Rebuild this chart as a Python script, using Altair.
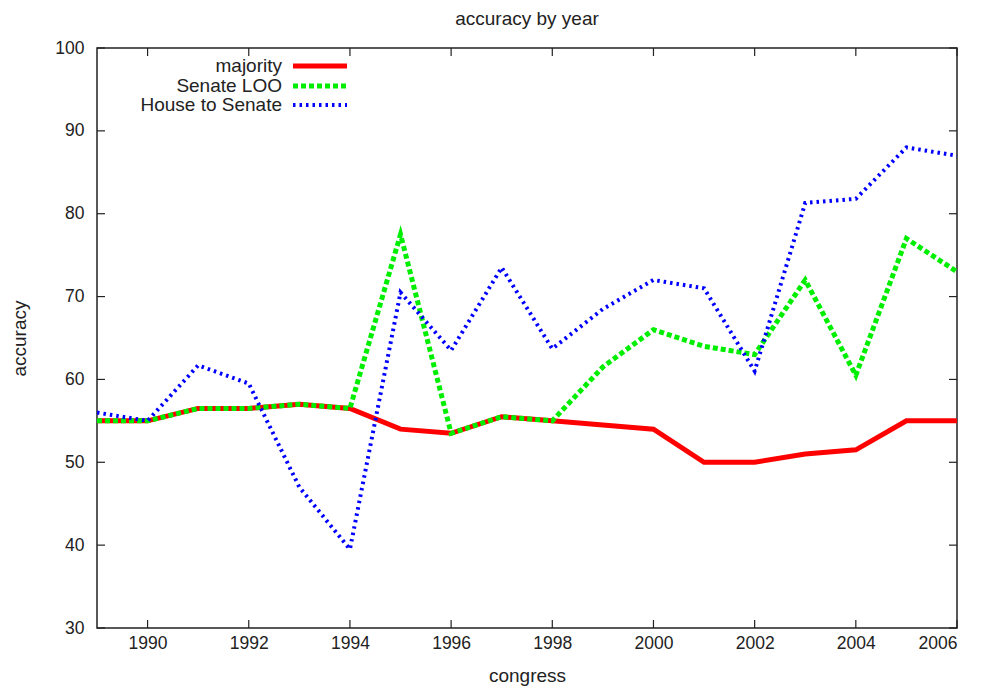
import altair as alt
import pandas as pd

years = list(range(1989, 2007))
majority = [55, 55, 56.5, 56.5, 57, 56.5, 54, 53.5, 55.5, 55, 54.5, 54, 50, 50, 51, 51.5, 55, 55]
senate_loo = [55, 55, 56.5, 56.5, 57, 56.5, 77.5, 53.5, 55.5, 55, 61.5, 66, 64, 63, 72, 60.5, 77, 73]
house_to_senate = [56, 55, 61.7, 59.5, 47, 39.5, 70.5, 63.5, 73.5, 63.7, 68.5, 72, 71, 61, 81.3, 81.8, 88, 87]
series_names = ["majority", "Senate LOO", "House to Senate"]
x_ticks = list(range(1990, 2007, 2))
y_ticks = list(range(30, 101, 10))

rows = []
for name, vals in zip(series_names, [majority, senate_loo, house_to_senate]):
    for yr, v in zip(years, vals):
        rows.append({"year": yr, "accuracy": v, "series": name})
df = pd.DataFrame(rows)
xt = pd.DataFrame({"year": x_ticks})
yt = pd.DataFrame({"accuracy": y_ticks})

W, H = 860, 580
FONT = "Liberation Sans"
TXT = "#222222"

xscale = alt.Scale(domain=[1989, 2006], nice=False, zero=False)
yscale = alt.Scale(domain=[30, 100], nice=False, zero=False)

xaxis = alt.Axis(values=x_ticks, format="d", ticks=False, domain=False, grid=False,
                 labelFont=FONT, labelFontSize=17.5, labelColor=TXT, labelPadding=6,
                 title="congress", titleFont=FONT, titleFontSize=19, titleFontWeight="normal",
                 titleColor=TXT, titlePadding=15)
yaxis = alt.Axis(values=y_ticks, ticks=False, domain=False, grid=False,
                 labelFont=FONT, labelFontSize=17.5, labelColor=TXT, labelPadding=13,
                 title="accuracy", titleFont=FONT, titleFontSize=19, titleFontWeight="normal",
                 titleColor=TXT, titlePadding=25)

X = lambda: alt.X("year:Q", scale=xscale, axis=xaxis)
Y = lambda: alt.Y("accuracy:Q", scale=yscale, axis=yaxis)

styles = {
    "majority": dict(color="#ff0000", strokeWidth=5),
    "Senate LOO": dict(color="#00ee00", strokeWidth=5, strokeDash=[5, 3]),
    "House to Senate": dict(color="#0000ff", strokeWidth=4, strokeDash=[2.5, 4]),
}

layers = []
for name in series_names:
    st = styles[name]
    layers.append(
        alt.Chart(df).transform_filter(alt.datum.series == name)
        .mark_line(strokeCap="butt", strokeJoin="miter", clip=True, **st)
        .encode(x=X(), y=Y())
    )

TL = 8
tick_style = dict(color="#222222", strokeWidth=1.2)
ticks = [
    alt.Chart(xt).mark_rule(**tick_style).encode(x=X(), y=alt.value(H), y2=alt.value(H - TL)),
    alt.Chart(xt).mark_rule(**tick_style).encode(x=X(), y=alt.value(0), y2=alt.value(TL)),
    alt.Chart(yt).mark_rule(**tick_style).encode(y=Y(), x=alt.value(0), x2=alt.value(TL)),
    alt.Chart(yt).mark_rule(**tick_style).encode(y=Y(), x=alt.value(W), x2=alt.value(W - TL)),
]

legend = []
one = alt.Data(values=[{"k": 1}])
row_y = [18, 38, 57]
for name, ry in zip(series_names, row_y):
    st = styles[name]
    legend.append(
        alt.Chart(one).mark_text(text=name, align="right", baseline="middle", font=FONT,
                                 fontSize=19, color=TXT)
        .encode(x=alt.value(185), y=alt.value(ry))
    )
    legend.append(
        alt.Chart(one).mark_rule(strokeCap="butt", **st)
        .encode(x=alt.value(196), x2=alt.value(250), y=alt.value(ry), y2=alt.value(ry))
    )

chart = alt.layer(*layers, *ticks, *legend).properties(
    width=W, height=H,
    title=alt.TitleParams("accuracy by year", font=FONT, fontSize=19, fontWeight="normal",
                          color=TXT, anchor="middle", offset=10),
    autosize=alt.AutoSizeParams(type="none"),
    padding={"left": 89, "top": 40, "right": 20, "bottom": 63},
    background="white",
).configure_view(stroke="#222222", strokeWidth=1.5)

chart.save("out.html", embed_options={"renderer": "svg", "actions": False})
